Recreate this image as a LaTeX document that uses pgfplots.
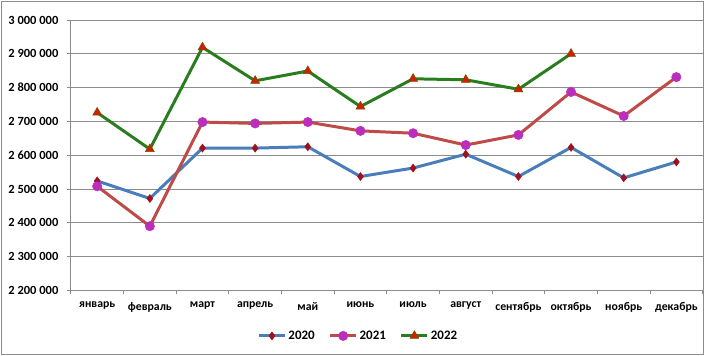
\documentclass[border=0pt]{standalone}
\usepackage{fontspec}
\setmainfont{Carlito}
\usepackage{pgfplots}
\pgfplotsset{compat=1.18}
\definecolor{gridc}{HTML}{8C8C8C}
\definecolor{l20}{HTML}{4A7EBB}
\definecolor{l21}{HTML}{BE4B48}
\definecolor{l22}{HTML}{2A7D1E}
\definecolor{m20}{HTML}{A0101E}
\definecolor{m21}{HTML}{BB2DBB}
\definecolor{m22}{HTML}{CC2200}
\definecolor{m22o}{HTML}{7A4A00}
\begin{document}
\begin{tikzpicture}
\begin{axis}[name=ax, scale only axis, width=633pt, height=271pt,
  xmin=-0.5, xmax=11.5, ymin=2200000, ymax=3000000,
  scaled y ticks=false,
  axis lines=left, axis line style={-, draw=gridc, line width=0.8pt},
  tick align=outside, major tick length=4pt,
  tick style={draw=gridc, line width=0.8pt},
  ytick={2200000,2300000,2400000,2500000,2600000,2700000,2800000,2900000,3000000},
  yticklabels={2 200 000,2 300 000,2 400 000,2 500 000,2 600 000,2 700 000,2 800 000,2 900 000,3 000 000},
  ymajorgrids, grid style={gridc, line width=0.8pt},
  xtick={-0.5,0.5,...,11.5}, xticklabel=\empty,
  extra x ticks={0,1,2,3,4,5,6,7,8,9,10,11},
  extra x tick labels={январь,февраль,март,апрель,май,июнь,июль,август,сентябрь,октябрь,ноябрь,декабрь},
  extra x tick style={major tick length=0pt, grid=none},
  xticklabel style={font=\bfseries\fontsize{11.8}{13}\selectfont, yshift=-8pt},
  yticklabel style={font=\bfseries\fontsize{12.5}{14}\selectfont, xshift=-5pt},
  legend style={at={(0.455,-0.168)}, anchor=center, draw=none, legend columns=3,
    font=\bfseries\fontsize{13}{15}\selectfont,
    /tikz/every even column/.append style={column sep=12pt}},
  legend image code/.code={\draw[mark repeat=2,mark phase=2] plot coordinates {(0pt,0pt) (13pt,0pt) (26pt,0pt)};},
  clip=false,
]
\addplot[l20, line width=3pt, mark=diamond*, mark size=4pt, mark options={solid, line width=0.5pt, fill=m20, draw=m20}] coordinates {
(0,2524000) (1,2472000) (2,2621000) (3,2621000) (4,2625000) (5,2537000) (6,2562000) (7,2603000) (8,2537000) (9,2623000) (10,2533000) (11,2580000)};
\addlegendentry{2020}
\addplot[l21, line width=3pt, mark=*, mark size=4.7pt, mark options={solid, line width=0.5pt, fill=m21, draw=m21}] coordinates {
(0,2508000) (1,2390000) (2,2698000) (3,2694000) (4,2698000) (5,2672000) (6,2665000) (7,2630000) (8,2660000) (9,2787000) (10,2716000) (11,2831000)};
\addlegendentry{2021}
\addplot[l22, line width=3pt, mark=triangle*, mark size=5.2pt, mark options={solid, line width=0.5pt, fill=m22, draw=m22o}] coordinates {
(0,2726000) (1,2618000) (2,2919000) (3,2820000) (4,2849000) (5,2744000) (6,2826000) (7,2823000) (8,2795000) (9,2900000)};
\addlegendentry{2022}
\end{axis}
\path ([xshift=-71pt,yshift=-65pt]ax.south west) rectangle ([xshift=2pt,yshift=20pt]ax.north east);
\draw[gridc, line width=0.8pt] ([xshift=-70pt,yshift=-64pt]ax.south west) rectangle ([xshift=0.5pt,yshift=19pt]ax.north east);
\end{tikzpicture}
\end{document}
